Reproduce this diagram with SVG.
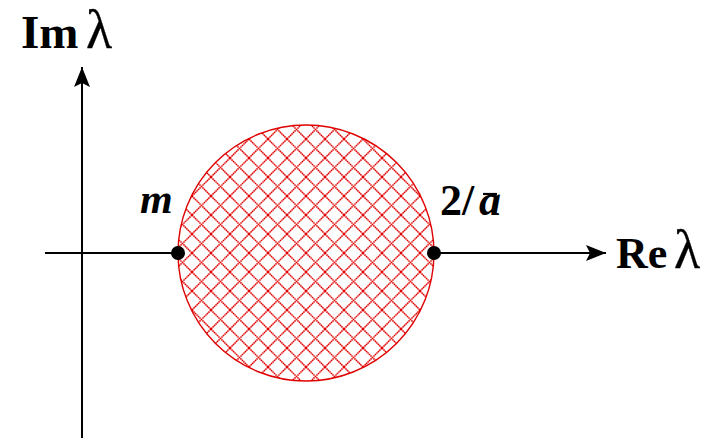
<svg xmlns="http://www.w3.org/2000/svg" width="719" height="438" viewBox="0 0 719 438">
<style>
.ax{stroke:#000;stroke-width:2;fill:none}
.lbl{font-family:"Liberation Serif","Times New Roman",serif;font-weight:bold;fill:#000}
.gr{font-family:"Liberation Serif","Times New Roman",serif;font-weight:normal;fill:#000;stroke:#000;stroke-width:0.3}
.it{font-family:"Liberation Serif","Times New Roman",serif;font-weight:bold;font-style:italic;fill:#000}
</style>
<defs>
<pattern id="hatch" patternUnits="userSpaceOnUse" x="306" y="253" width="19" height="19">
<path d="M0,0 L19,19 M19,0 L0,19 M-1,18 L1,20 M18,-1 L20,1" stroke="#e00000" stroke-width="1.5" stroke-dasharray="1.6,0.5"/>
</pattern>
<marker id="arr" markerUnits="userSpaceOnUse" markerWidth="22" markerHeight="18" refX="20" refY="8" orient="auto" viewBox="0 0 22 16">
<path d="M0,0 L20,8 L0,16 L4,8 Z" fill="#000"/>
</marker>
</defs>
<g id="connectors">
<line class="ax" x1="82" y1="438" x2="82" y2="67" marker-end="url(#arr)"/>
<line class="ax" x1="45" y1="253" x2="178" y2="253"/>
<line class="ax" x1="434" y1="253" x2="606" y2="253" marker-end="url(#arr)"/>
</g>
<g id="region">
<circle cx="306" cy="253" r="128" fill="url(#hatch)" stroke="#e00000" stroke-width="1.4"/>
</g>
<g id="point-m">
<circle cx="178" cy="253" r="7" fill="#000"/>
<text class="it" x="140" y="213" font-size="42">m</text>
</g>
<g id="point-2a">
<circle cx="434" cy="253" r="7" fill="#000"/>
<text class="lbl" x="440" y="215" font-size="44">2/</text>
<text class="it" x="479" y="215" font-size="44">a</text>
<line x1="483" y1="194" x2="497" y2="194" stroke="#000" stroke-width="2.2"/>
</g>
<g id="label-im">
<text class="lbl" x="21" y="48" font-size="47">Im</text>
<text class="gr" x="86" y="48" font-size="54">λ</text>
</g>
<g id="label-re">
<text class="lbl" x="616" y="268" font-size="44">Re</text>
<text class="gr" x="674" y="268" font-size="54">λ</text>
</g>
</svg>
